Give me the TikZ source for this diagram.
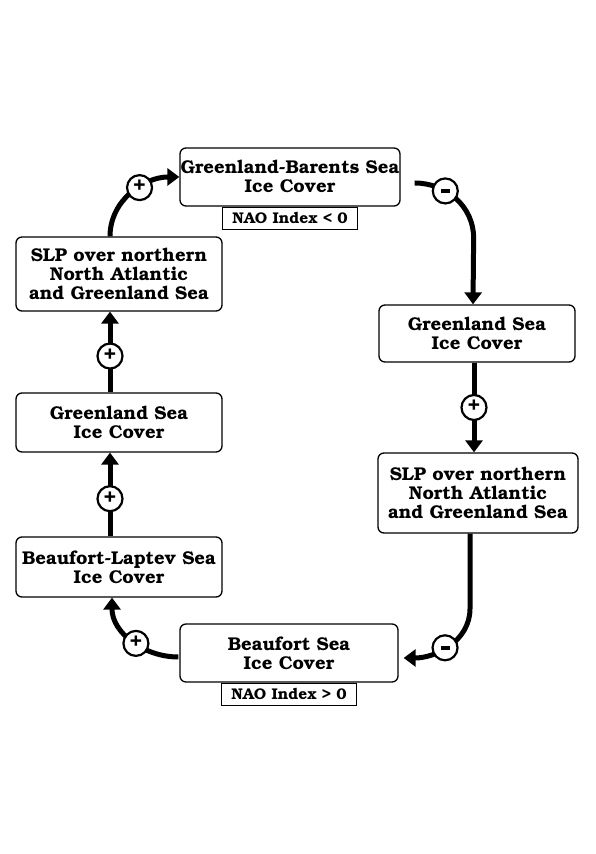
\documentclass[tikz,border=0pt]{standalone}
\usepackage[T1]{fontenc}
\usepackage{bookman}
\usetikzlibrary{arrows.meta}
\begin{document}
\begin{tikzpicture}[x=1pt,y=1pt,
    box/.style={draw, line width=1.3pt, rounded corners=6pt, align=center, inner sep=0pt,
      font=\fontsize{18.5}{19}\selectfont\bfseries},
    naobox/.style={draw, line width=1pt, inner sep=0pt, minimum width=135pt, minimum height=22pt,
      font=\fontsize{15.5}{16}\selectfont\bfseries},
    sign/.style={circle, draw, line width=2.2pt, fill=white, inner sep=0pt, minimum size=25pt,
      font=\fontsize{21}{21}\selectfont\bfseries},
    flow/.style={line width=5pt, -{Triangle[length=12pt,width=17pt]}}]
  \useasboundingbox (0,0) rectangle (596,854);
  % boxes
  \node[box, minimum width=220pt, minimum height=58pt] (gb) at (290,677) {Greenland-Barents Sea\\Ice Cover};
  \node[naobox, anchor=north] (naoneg) at (gb.south) {NAO Index < 0};
  \node[box, minimum width=206pt, minimum height=74pt] (slpl) at (119,580) {SLP over northern\\North Atlantic\\and Greenland Sea};
  \node[box, minimum width=206pt, minimum height=59pt] (gsl) at (119,431.5) {Greenland Sea\\Ice Cover};
  \node[box, minimum width=206pt, minimum height=60pt] (bll) at (119,287) {Beaufort-Laptev Sea\\Ice Cover};
  \node[box, minimum width=196pt, minimum height=57pt] (gsr) at (477,520.5) {Greenland Sea\\Ice Cover};
  \node[box, minimum width=200pt, minimum height=80pt] (slpr) at (478,361) {SLP over northern\\North Atlantic\\and Greenland Sea};
  \node[box, minimum width=218pt, minimum height=58pt] (bs) at (289,201) {Beaufort Sea\\Ice Cover};
  \node[naobox, anchor=north] (naopos) at (bs.south) {NAO Index > 0};
  % feedbacks
  \begin{scope}[flow]
    \draw ([xshift=-9pt]bll.north) -- node[sign, pos=0.45] (p1) {+} ([xshift=-9pt]gsl.south);
    \draw ([xshift=-9pt]gsl.north) -- node[sign, pos=0.45] (p2) {+} ([xshift=-9pt]slpl.south);
    \draw ([xshift=-9pt]slpl.north) to[out=90,in=180] node[sign, pos=0.6] (p3) {+} (gb.west);
    \draw ([shift={(14pt,-6pt)}]gb.east) to[out=0,in=90] node[sign, pos=0.35] (m1) {\rule{9pt}{3.5pt}} ++(59pt,-55pt)
      -- ([xshift=-4pt]gsr.north);
    \draw ([xshift=-3pt]gsr.south) -- node[sign] (p4) {+} ([xshift=-4pt]slpr.north);
    \draw ([xshift=-8pt]slpr.south) -- ++(0,-75pt) to[out=-90,in=0] node[sign, pos=0.55] (m2) {\rule{9pt}{3.5pt}}
      ([shift={(5pt,-5pt)}]bs.east);
    \draw ([shift={(-1pt,-4pt)}]bs.west) to[out=180,in=-90] node[sign, pos=0.45] (p5) {+}
      ([xshift=-7pt]bll.south);
  \end{scope}
\end{tikzpicture}
\end{document}
